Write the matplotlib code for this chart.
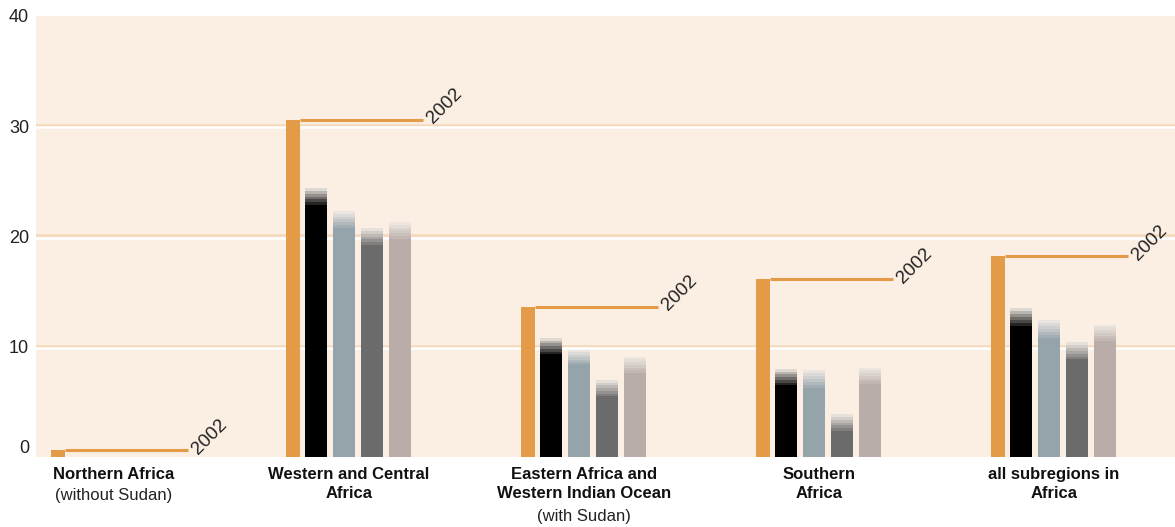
import matplotlib
matplotlib.use("Agg")
import matplotlib.pyplot as plt
import matplotlib.colors as mcolors
import numpy as np

plt.rcParams['font.family'] = ['Liberation Sans', 'DejaVu Sans']

# ---- data ----
titles = ["Northern Africa", "Western and Central\nAfrica",
          "Eastern Africa and\nWestern Indian Ocean", "Southern\nAfrica",
          "all subregions in\nAfrica"]
subtitles = ["(without Sudan)", "", "(with Sudan)", "", ""]
year_label = "2002"
val_2002 = [0.6, 30.6, 13.6, 16.1, 18.2]
# four later series: solid value and upper (faded) value
series_low = [
    [0.0, 22.85, 9.3, 6.5, 11.9],    # black
    [0.0, 20.8, 8.4, 6.3, 10.8],     # blue-grey
    [0.0, 19.2, 5.5, 2.35, 8.85],    # grey
    [0.0, 19.8, 7.6, 6.6, 10.5],     # taupe
]
series_high = [
    [0.0, 24.4, 10.8, 8.0, 13.5],
    [0.0, 22.3, 9.7, 7.9, 12.4],
    [0.0, 20.8, 7.0, 3.9, 10.4],
    [0.0, 21.3, 9.1, 8.1, 12.0],
]
yticks = [0, 10, 20, 30, 40]

# ---- style ----
W, H = 1175, 527
bg = "#FBEEE3"
orange = "#E39B48"
series_colors = ["#000000", "#95A3AB", "#6B6B6B", "#B9ADA9"]
fade_to = np.array(mcolors.to_rgb("#F1EBE4"))
text_col = "#222222"

PX = 235.0  # px per group unit
fig = plt.figure(figsize=(W / 100, H / 100), dpi=100)
ax_left, ax_right, ax_top, ax_bot = 36, 1175, 16, 457
ax = fig.add_axes([ax_left / W, 1 - ax_bot / H, (ax_right - ax_left) / W, (ax_bot - ax_top) / H])
ax.set_facecolor(bg)
ax.set_xlim(-(51 - ax_left) / PX, (ax_right - 51) / PX)
ax.set_ylim(0, 39.8)
for s in ax.spines.values():
    s.set_visible(False)
ax.tick_params(length=0, pad=5)
ax.set_xticks([])
ax.set_yticks(yticks)
ax.set_yticklabels([str(t) for t in yticks], fontsize=13, color=text_col)
ax.get_yticklabels()[0].set_va('bottom')

# gridlines
for t in yticks[1:-1]:
    ax.axhline(t + 0.1, color="#F5D9BC", lw=1.8, zorder=0.5)
    ax.axhline(t - 0.1, color="white", lw=1.8, zorder=0.5)

ow = 14 / PX
bw = 22 / PX
offs = [19 / PX, 47 / PX, 75 / PX, 103 / PX]
nsteps = 6
for i in range(len(titles)):
    x0 = i
    ax.bar(x0, val_2002[i], width=ow, align='edge', color=orange, zorder=2, linewidth=0)
    # line + year label
    xe = x0 + 137 / PX
    ax.plot([x0 + ow, xe], [val_2002[i], val_2002[i]], color=orange, lw=2.2,
            solid_capstyle='butt', zorder=2)
    ax.text(xe + 10 / PX, val_2002[i] - 0.4, year_label, rotation=45, rotation_mode='anchor',
            ha='left', va='baseline', fontsize=13.5, color=text_col)
    for k in range(4):
        lo = series_low[k][i]
        hi = series_high[k][i]
        if hi <= 0:
            continue
        base = np.array(mcolors.to_rgb(series_colors[k]))
        ax.bar(x0 + offs[k], lo, width=bw, align='edge', color=base, zorder=2, linewidth=0)
        step = (hi - lo) / nsteps
        for j in range(nsteps):
            f = (j + 1) / (nsteps + 0.5)
            c = base * (1 - f) + fade_to * f
            ax.bar(x0 + offs[k], step, bottom=lo + j * step, width=bw, align='edge',
                   color=c, zorder=2, linewidth=0)
    # category labels
    cx = x0 + 63 / PX
    nlines = titles[i].count("\n") + 1
    ax.annotate(titles[i], xy=(cx, 0), xycoords='data', xytext=(0, -7),
                textcoords='offset points', ha='center', va='top', fontsize=12,
                fontweight='bold', color="#111111", linespacing=1.32)
    if subtitles[i]:
        ax.annotate(subtitles[i], xy=(cx, 0), xycoords='data',
                    xytext=(0, -7 - 15.2 * nlines), textcoords='offset points',
                    ha='center', va='top', fontsize=12, color=text_col)

fig.savefig("out.png", dpi=100, facecolor="white")
